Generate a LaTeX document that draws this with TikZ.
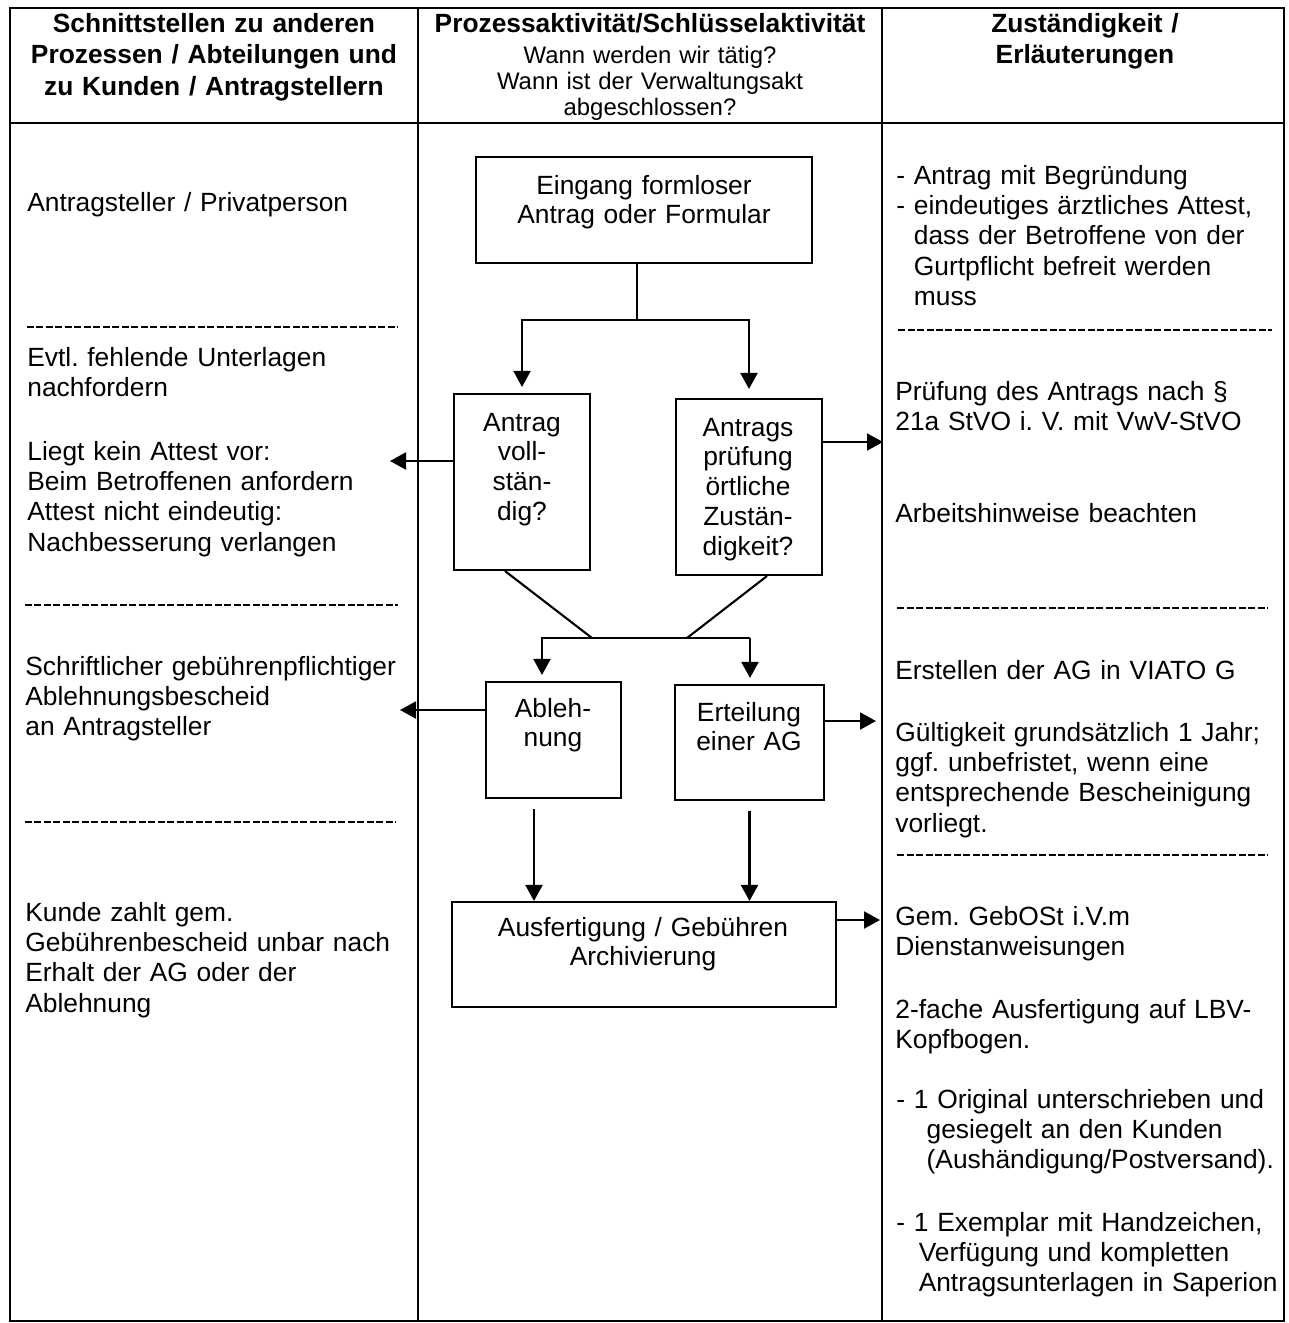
\documentclass[tikz,border=0pt]{standalone}
\usepackage{fontspec}
\setmainfont{Liberation Sans}
\usetikzlibrary{arrows.meta}
\frenchspacing
\newcommand{\hangsp}{\phantom{- }}
\tikzset{procbox/.style = {draw, line width=1.2pt, inner sep=0pt}}
\tikzset{boxtext/.style = {anchor=base, align=center, text width=7cm, inner sep=0pt, font=\fontsize{15}{17}\selectfont}}
\tikzset{celltext/.style = {anchor=base west, align=left, text width=9cm, inner sep=0pt, font=\fontsize{15}{17.3}\selectfont}}
\tikzset{headtext/.style = {anchor=base, align=center, text width=10cm, inner sep=0pt, font=\bfseries\fontsize{15}{18.1}\selectfont}}
\tikzset{subtext/.style = {anchor=base, align=center, text width=9cm, inner sep=0pt, font=\fontsize{13.6}{15}\selectfont}}
\tikzset{conn/.style = {line width=1.2pt}}
\tikzset{flow/.style = {conn, -{Triangle[length=0.32cm,width=0.34cm]}}}
\tikzset{rowsep/.style = {line width=0.8pt, dash pattern=on 0.14cm off 0.05cm}}
\tikzset{gridline/.style = {line width=1.3pt}}

\begin{document}
\begin{tikzpicture}[x=0.02cm, y=-0.02cm]
  \useasboundingbox (0,0) rectangle (1289,1323);

  \draw[gridline] (10,8) rectangle (1284,1321);
  \draw[gridline] (10,123) -- (1284,123);
  \draw[gridline] (418,8) -- (418,1321);
  \draw[gridline] (882,8) -- (882,1321);

  \node[headtext] (HeadL) at (214,32) {Schnittstellen zu anderen\\Prozessen / Abteilungen und\\zu Kunden / Antragstellern};
  \node[headtext] (HeadM) at (650,32) {Prozessaktivität/Schlüsselaktivität};
  \node[subtext] (HeadSub) at (650,63) {Wann werden wir tätig?\\Wann ist der Verwaltungsakt\\abgeschlossen?};
  \node[headtext] (HeadR) at (1085,32) {Zuständigkeit /\\Erläuterungen};

  \node[celltext] (L1) at (27,211) {Antragsteller / Privatperson};
  \draw[rowsep] (27,327) -- (398,327);
  \node[celltext] (L2) at (27,366) {Evtl. fehlende Unterlagen\\nachfordern};
  \node[celltext] (L3) at (27,460) {Liegt kein Attest vor:\\Beim Betroffenen anfordern\\Attest nicht eindeutig:\\Nachbesserung verlangen};
  \draw[rowsep] (25,605) -- (398,605);
  \node[celltext] (L4) at (25,675) {Schriftlicher gebührenpflichtiger\\Ablehnungsbescheid\\an Antragsteller};
  \draw[rowsep] (25,822) -- (396,822);
  \node[celltext] (L5) at (25,921) {Kunde zahlt gem.\\Gebührenbescheid unbar nach\\Erhalt der AG oder der\\Ablehnung};

  \node[celltext] (R1) at (896,184) {- Antrag mit Begründung\\- eindeutiges ärztliches Attest,\\\hangsp dass der Betroffene von der\\\hangsp Gurtpflicht befreit werden\\\hangsp muss};
  \draw[rowsep] (898,330) -- (1272,330);
  \node[celltext] (R2) at (895,400) {Prüfung des Antrags nach §\\21a StVO i. V. mit VwV-StVO};
  \node[celltext] (R3) at (895,522) {Arbeitshinweise beachten};
  \draw[rowsep] (897,608) -- (1268,608);
  \node[celltext] (R4) at (895,679) {Erstellen der AG in VIATO G};
  \node[celltext] (R5) at (895,741) {Gültigkeit grundsätzlich 1 Jahr;\\ggf. unbefristet, wenn eine\\entsprechende Bescheinigung\\vorliegt.};
  \draw[rowsep] (897,855) -- (1268,855);
  \node[celltext] (R6) at (895,925) {Gem. GebOSt i.V.m\\Dienstanweisungen};
  \node[celltext] (R7) at (895,1018) {2-fache Ausfertigung auf LBV-\\Kopfbogen.};
  \node[celltext] (R8) at (896,1108) {- 1 Original unterschrieben und\\\hspace*{1.15em}gesiegelt an den Kunden\\\hspace*{1.15em}(Aushändigung/Postversand).};
  \node[celltext] (R9) at (896,1231) {- 1 Exemplar mit Handzeichen,\\\hspace*{0.85em}Verfügung und kompletten\\\hspace*{0.85em}Antragsunterlagen in Saperion};

  \node[procbox, minimum width=6.72cm, minimum height=2.12cm] (Eing) at (644,210) {};
  \node[procbox, minimum width=2.72cm, minimum height=3.52cm] (Voll) at (522,482) {};
  \node[procbox, minimum width=2.92cm, minimum height=3.52cm] (Zust) at (749,487) {};
  \node[procbox, minimum width=2.70cm, minimum height=2.32cm] (Abl) at (553.5,740) {};
  \node[procbox, minimum width=2.98cm, minimum height=2.30cm] (Ert) at (749.5,742.5) {};
  \node[procbox, minimum width=7.68cm, minimum height=2.10cm] (Ausf) at (644,954.5) {};

  \node[boxtext] (EingT) at (644,194) {Eingang formloser\\Antrag oder Formular};
  \node[boxtext] (VollT) at (522,431) {Antrag\\voll-\\stän-\\dig?};
  \node[boxtext] (ZustT) at (748,436) {Antrags\\prüfung\\örtliche\\Zustän-\\digkeit?};
  \node[boxtext] (AblT) at (553,717) {Ableh-\\nung};
  \node[boxtext] (ErtT) at (749,721) {Erteilung\\einer AG};
  \node[boxtext] (AusfT) at (643,936) {Ausfertigung / Gebühren\\Archivierung};

  \coordinate (S1) at (637,320);
  \draw[conn] (Eing.south -| S1) -- (S1);
  \draw[flow, shorten >=0.12cm] (S1) -| (Voll.north);
  \draw[flow, shorten >=0.18cm] (S1) -| (Zust.north);

  \coordinate (M1) at (592,638);
  \coordinate (M2) at (687,638);
  \coordinate (ML) at (542,638);
  \coordinate (MR) at (750,638);
  \draw[conn] ([xshift=-0.34cm]Voll.south) -- (M1);
  \draw[conn] ([xshift=0.36cm]Zust.south) -- (M2);
  \draw[flow, shorten >=0.12cm] (MR) -- (ML) -- (ML |- Abl.north);
  \draw[flow, shorten >=0.12cm] (MR) -- (MR |- Ert.north);

  \coordinate (A1) at (390,461);
  \coordinate (A2) at (883,442);
  \coordinate (A3) at (400,710);
  \coordinate (A4) at (876,721);
  \coordinate (A5) at (880,920);
  \draw[flow] (Voll.west |- A1) -- (A1);
  \draw[flow] (Zust.east |- A2) -- (A2);
  \draw[flow] (Abl.west |- A3) -- (A3);
  \draw[flow] (Ert.east |- A4) -- (A4);
  \draw[flow] (Ausf.east |- A5) -- (A5);

  \coordinate (D1) at (534,808);
  \draw[flow, shorten <=0.2cm] (D1 |- Abl.south) -- (D1 |- Ausf.north);
  \draw[flow, shorten <=0.2cm] (Ert.south) -- (Ert.south |- Ausf.north);
\end{tikzpicture}
\end{document}
